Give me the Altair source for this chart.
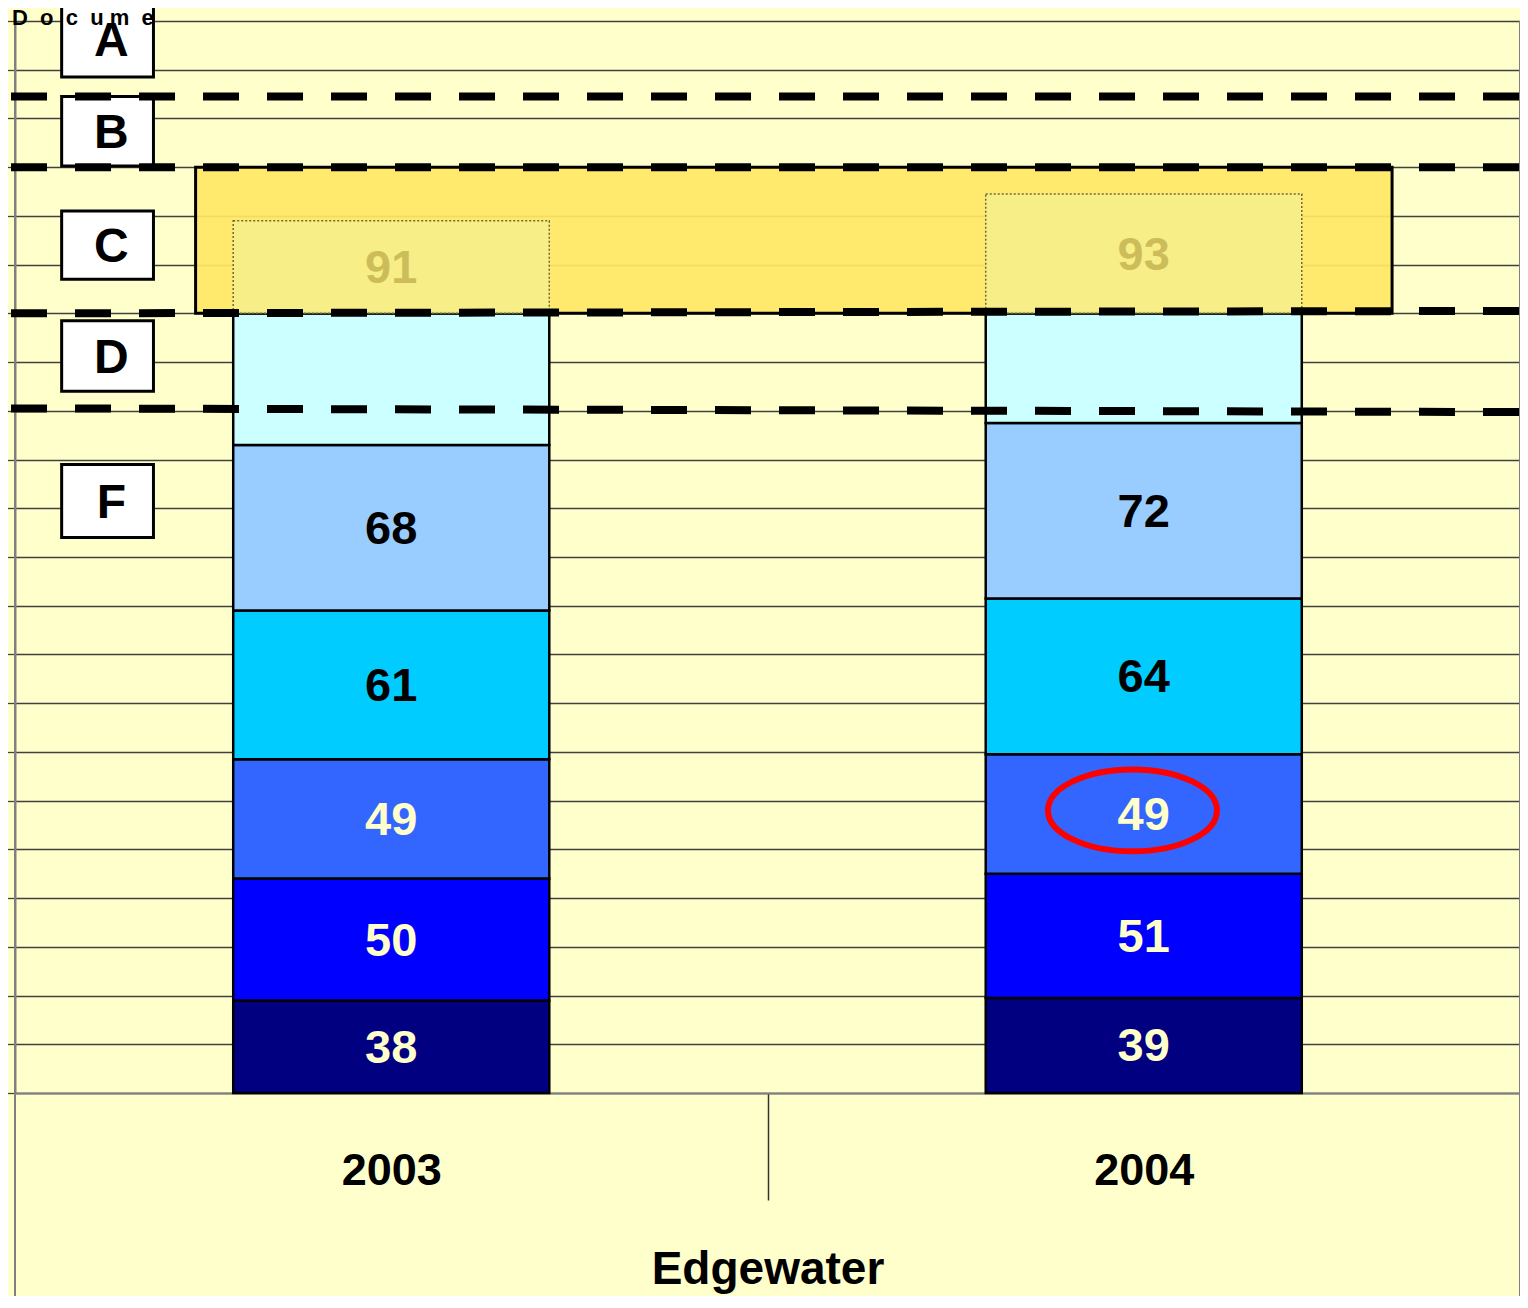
import altair as alt
import pandas as pd

# ---------------- data ----------------
YEARS = ["2003", "2004"]
YEAR_POS = [0.5, 1.5]
SEG_2003 = [38, 50, 49, 61, 68, 54, 38]
SEG_2004 = [39, 51, 49, 64, 72, 45, 49]
LAB_2003 = ["38", "50", "49", "61", "68", "", "91"]
LAB_2004 = ["39", "51", "49", "64", "72", "", "93"]
SEG_COLORS = ["#000080", "#0000FF", "#3366FF", "#00CCFF", "#99CCFF", "#CCFFFF", "#F6EE8A"]
LAB_COLORS = ["#FFFFCC", "#FFFFCC", "#FFFFCC", "#000000", "#000000", "#000000", "#CDBD5A"]

GRADES = ["A", "B", "C", "D", "F"]
GRADE_LOW = [417, 380.5, 334, 288, 228]
GRADE_HIGH = [448, 409, 362, 317, 258]

CUT_LEFT = [409, 380, 320, 281]
CUT_RIGHT = [409, 380, 321, 279.5]

BAND_LOW, BAND_HIGH = 320, 380
BAND_X0, BAND_X1 = 0.24, 1.83

HIGHLIGHT_X, HIGHLIGHT_Y = 1.485, 116

FONT = "Liberation Sans, Arial, Helvetica, sans-serif"
HALF = 0.21

# ---------------- tables ----------------
rows = []
for year, pos, vals, labs in [(YEARS[0], YEAR_POS[0], SEG_2003, LAB_2003),
                              (YEARS[1], YEAR_POS[1], SEG_2004, LAB_2004)]:
    cum = 0
    for i, v in enumerate(vals):
        rows.append(dict(year=year, pos=pos, x0=pos - HALF, x1=pos + HALF,
                         y0=cum, y1=cum + v, mid=cum + v / 2, seg=i,
                         label=labs[i], color=SEG_COLORS[i], tcolor=LAB_COLORS[i]))
        cum += v
bars = pd.DataFrame(rows)

grades = pd.DataFrame(dict(g=GRADES, lo=GRADE_LOW, hi=GRADE_HIGH,
                           mid=[(a + b) / 2 for a, b in zip(GRADE_LOW, GRADE_HIGH)],
                           x0=[0.062] * 5, x1=[0.184] * 5, xm=[0.128] * 5))
cuts = pd.DataFrame(dict(x0=[-0.0053] * 4, x1=[2.0] * 4, yl=CUT_LEFT, yr=CUT_RIGHT))
band = pd.DataFrame(dict(x0=[BAND_X0], x1=[BAND_X1], lo=[BAND_LOW], hi=[BAND_HIGH]))
frame = pd.DataFrame(dict(x=[0.0, 2.0], top=[440, 440], bot=[-84, -84]))
NB = "\u00a0"
doc = pd.DataFrame(dict(x=[-0.004], y=[438.4],
                        t=["D" + NB * 2 + "o" + NB * 2 + "c" + NB * 2 + "u" + NB + "m" + NB * 2 + "e"]))
hl = pd.DataFrame(dict(x=[HIGHLIGHT_X], y=[HIGHLIGHT_Y]))

xscale = alt.Scale(domain=[0, 2], nice=False, zero=False)
yscale = alt.Scale(domain=[0, 440], nice=False, zero=False)

x_axis = alt.Axis(
    values=[0.5, 1, 1.5],
    labelExpr="datum.value == 0.5 ? '2003' : (datum.value == 1.5 ? '2004' : '')",
    tickSize=107, tickColor="#333333", tickWidth=1.5,
    tickOpacity={"condition": {"test": "datum.value == 1", "value": 1}, "value": 0},
    labelPadding=-30, labelBaseline="middle", labelFont=FONT, labelFontSize=45,
    labelFontWeight="bold", labelColor="black", labelFlush=False, labelOverlap=False,
    title="Edgewater", titleFont=FONT, titleFontSize=46, titleFontWeight="bold",
    titleColor="black", titlePadding=47,
    domainColor="#808080", domainWidth=2, grid=False,
)
y_axis = alt.Axis(
    values=list(range(0, 441, 20)), labels=False, ticks=True, tickSize=11,
    tickColor="#404040", tickWidth=1.3, grid=True, gridColor="#404040",
    gridWidth=1.3, gridOpacity=1, domainColor="#808080", domainWidth=2, title=None,
)


def X(field):
    return alt.X(field, type="quantitative", scale=xscale, axis=x_axis)


def Y(field):
    return alt.Y(field, type="quantitative", scale=yscale, axis=y_axis)


base_bars = alt.Chart(bars)

frame_layer = alt.Chart(frame).mark_rule(color="#808080", strokeWidth=2).encode(
    x=X("x"), y=Y("top"), y2="bot",
)

seg_layer = base_bars.transform_filter("datum.seg < 6").mark_rect(
    stroke="black", strokeWidth=2.5).encode(
    x=X("x0"), x2="x1", y=Y("y0"), y2="y1",
    color=alt.Color("color:N", scale=None),
)

band_layer = alt.Chart(band).mark_rect(
    fill="#FFE866", fillOpacity=0.92, stroke="black", strokeWidth=3).encode(
    x=X("x0"), x2="x1", y=Y("lo"), y2="hi",
)

ghost_layer = base_bars.transform_filter("datum.seg == 6").mark_rect(
    stroke="#6b6b3a", strokeWidth=1.5, strokeDash=[2, 2], fillOpacity=0.9).encode(
    x=X("x0"), x2="x1", y=Y("y0"), y2="y1",
    color=alt.Color("color:N", scale=None),
)

label_layer = base_bars.transform_filter("datum.label != ''").mark_text(
    font=FONT, fontSize=47, fontWeight="bold", baseline="middle", dy=2).encode(
    x=X("pos"), y=Y("mid"),
    text="label:N",
    color=alt.Color("tcolor:N", scale=None),
)

box_layer = alt.Chart(grades).mark_rect(fill="white", stroke="black", strokeWidth=3).encode(
    x=X("x0"), x2="x1", y=Y("lo"), y2="hi",
)
letter_layer = alt.Chart(grades).mark_text(
    font=FONT, fontSize=48, fontWeight="bold", baseline="middle", dy=3, color="black").encode(
    x=X("xm"), y=Y("mid"), text="g:N",
)

cut_layer = alt.Chart(cuts).mark_rule(
    color="black", strokeWidth=8, strokeDash=[36, 28]).encode(
    x=X("x0"), x2="x1", y=Y("yl"), y2="yr",
)

doc_layer = alt.Chart(doc).mark_text(
    font=FONT, fontSize=22, fontWeight="bold", align="left", baseline="alphabetic",
    color="black").encode(
    x=X("x"), y=Y("y"), text="t:N",
)

ELLIPSE = ("M -1 0 C -1 -0.268 -0.552 -0.485 0 -0.485 C 0.552 -0.485 1 -0.268 1 0 "
           "C 1 0.268 0.552 0.485 0 0.485 C -0.552 0.485 -1 0.268 -1 0 Z")
hl_layer = alt.Chart(hl).mark_point(
    shape=ELLIPSE, size=28561, filled=False, stroke="#FF0000", strokeWidth=6,
    opacity=1).encode(
    x=X("x"), y=Y("y"),
)

chart = alt.layer(
    frame_layer, seg_layer, band_layer, ghost_layer, label_layer,
    box_layer, letter_layer, cut_layer, doc_layer, hl_layer,
).properties(
    width=1505, height=1072,
    padding={"left": 7, "top": 13, "right": 0, "bottom": 203},
    autosize=alt.AutoSizeParams(type="none"),
    background="#FFFFCC",
).configure_view(stroke=None)

chart.save("out.html", embed_options={"renderer": "svg", "actions": False})
